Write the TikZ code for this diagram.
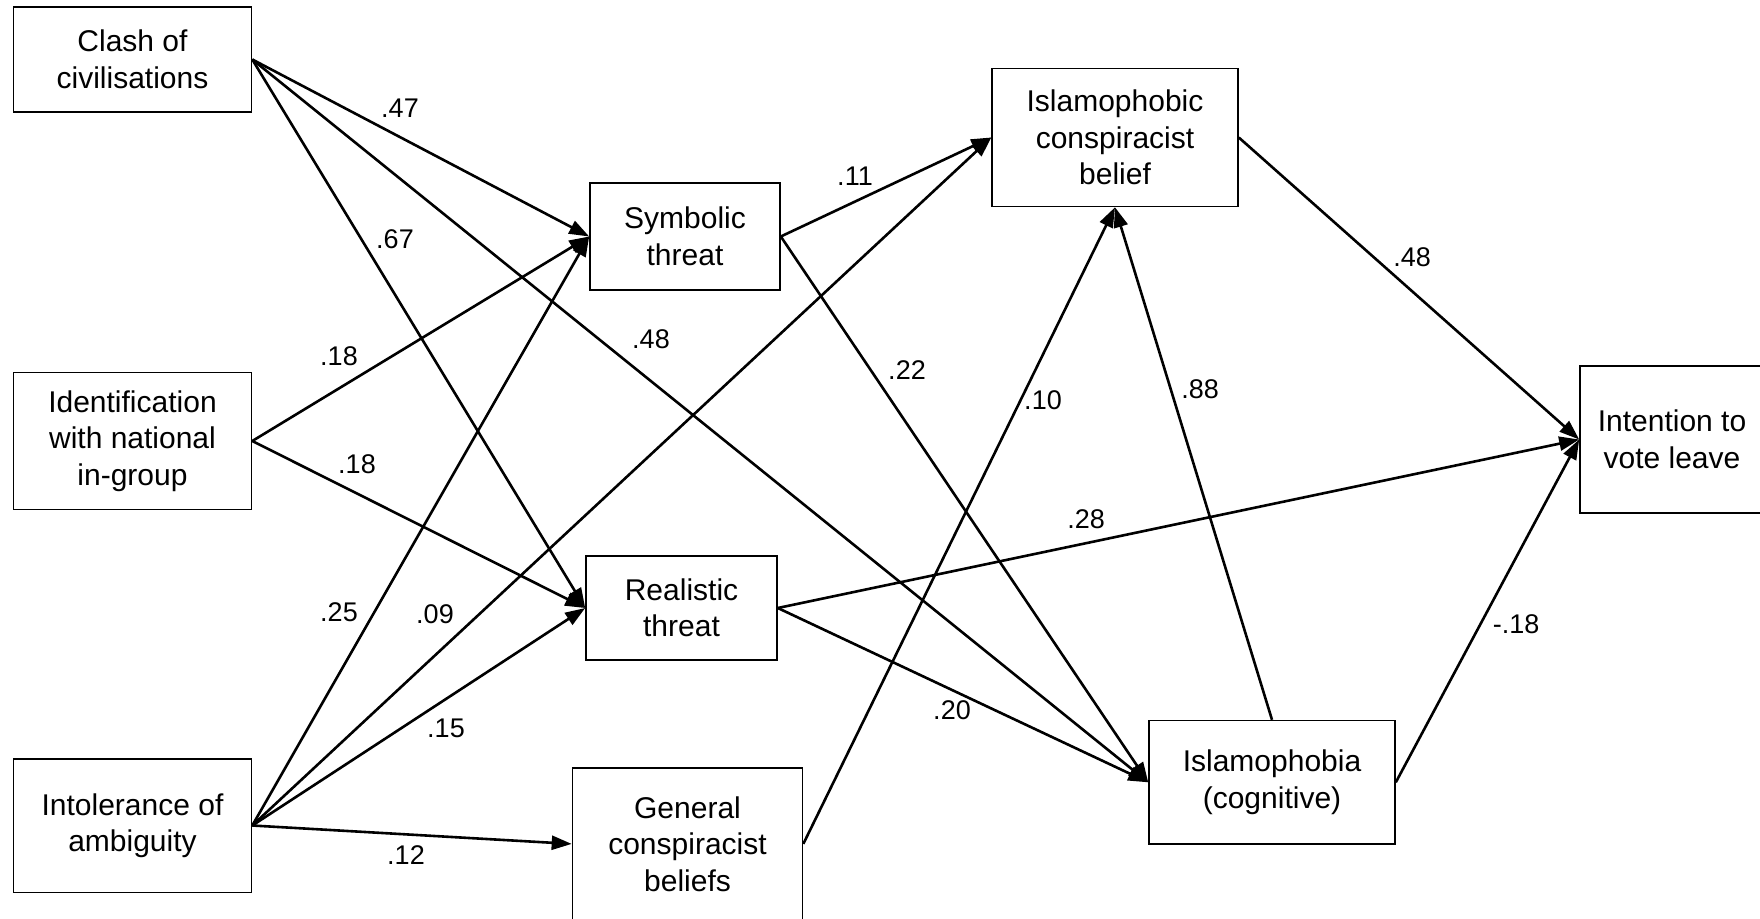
\documentclass[tikz,border=0pt]{standalone}
\usepackage{fontspec}
\setmainfont{Liberation Sans}
\usetikzlibrary{arrows.meta}
\begin{document}
\begin{tikzpicture}[x=1pt,y=-1pt,
  box/.style={draw, line width=1.6pt, align=center, inner sep=0pt, font=\fontsize{30}{36.5}\selectfont},
  link/.style={line width=2.6pt, -{Triangle[length=20pt,width=14pt]}},
  lbl/.style={font=\fontsize{27}{30}\selectfont, inner sep=0pt}]
\useasboundingbox (0,0) rectangle (1760,918);
% nodes
\node[box, minimum width=238pt, minimum height=105.5pt] (clash) at (132.5,59.5) {Clash of\\civilisations};
\node[box, minimum width=238pt, minimum height=137pt] (ident) at (132.5,441) {Identification\\with national\\in-group};
\node[box, minimum width=238pt, minimum height=133.6pt] (intol) at (132.5,825.5) {Intolerance of\\ambiguity};
\node[box, minimum width=190pt, minimum height=107pt] (sym) at (685,236.5) {Symbolic\\threat};
\node[box, minimum width=191pt, minimum height=104pt] (real) at (681.5,608) {Realistic\\threat};
\node[box, minimum width=230pt, minimum height=152pt] (gen) at (687.5,843.9) {General\\conspiracist\\beliefs};
\node[box, minimum width=246pt, minimum height=138pt] (icb) at (1115,137.5) {Islamophobic\\conspiracist\\belief};
\node[box, minimum width=246pt, minimum height=123.4pt] (isl) at (1272,782.3) {Islamophobia\\(cognitive)};
\node[box, minimum width=184pt, minimum height=147pt] (int) at (1672,439.5) {Intention to\\vote leave};
% connectors
\draw[link] (clash.east) -- (sym.west);
\draw[link] (clash.east) -- (real.west);
\draw[link] (clash.east) -- (isl.west);
\draw[link] (ident.east) -- (sym.west);
\draw[link] (ident.east) -- (real.west);
\draw[link] (intol.east) -- (sym.west);
\draw[link] (intol.east) -- (icb.west);
\draw[link] (intol.east) -- (real.west);
\draw[link] (intol.east) -- (gen.west);
\draw[link] (sym.east) -- (icb.west);
\draw[link] (sym.east) -- (isl.west);
\draw[link] (real.east) -- (int.west);
\draw[link] (real.east) -- (isl.west);
\draw[link] (gen.east) -- (icb.south);
\draw[link] (isl.north) -- (icb.south);
\draw[link] (icb.east) -- (int.west);
\draw[link] (isl.east) -- (int.west);
% labels
\node[lbl] (l1) at (400,108) {.47};
\node[lbl] (l2) at (395,239) {.67};
\node[lbl] (l3) at (651,339) {.48};
\node[lbl] (l4) at (339,356) {.18};
\node[lbl] (l5) at (357,464) {.18};
\node[lbl] (l6) at (339,612) {.25};
\node[lbl] (l7) at (435,614) {.09};
\node[lbl] (l8) at (446,728) {.15};
\node[lbl] (l9) at (406,855) {.12};
\node[lbl] (l10) at (855,176) {.11};
\node[lbl] (l11) at (907,370) {.22};
\node[lbl] (l12) at (1043,400) {.10};
\node[lbl] (l13) at (1200,389) {.88};
\node[lbl] (l14) at (1412,257) {.48};
\node[lbl] (l15) at (1086,519) {.28};
\node[lbl] (l16) at (952,710) {.20};
\node[lbl] (l17) at (1516,624) {-.18};
\end{tikzpicture}
\end{document}
